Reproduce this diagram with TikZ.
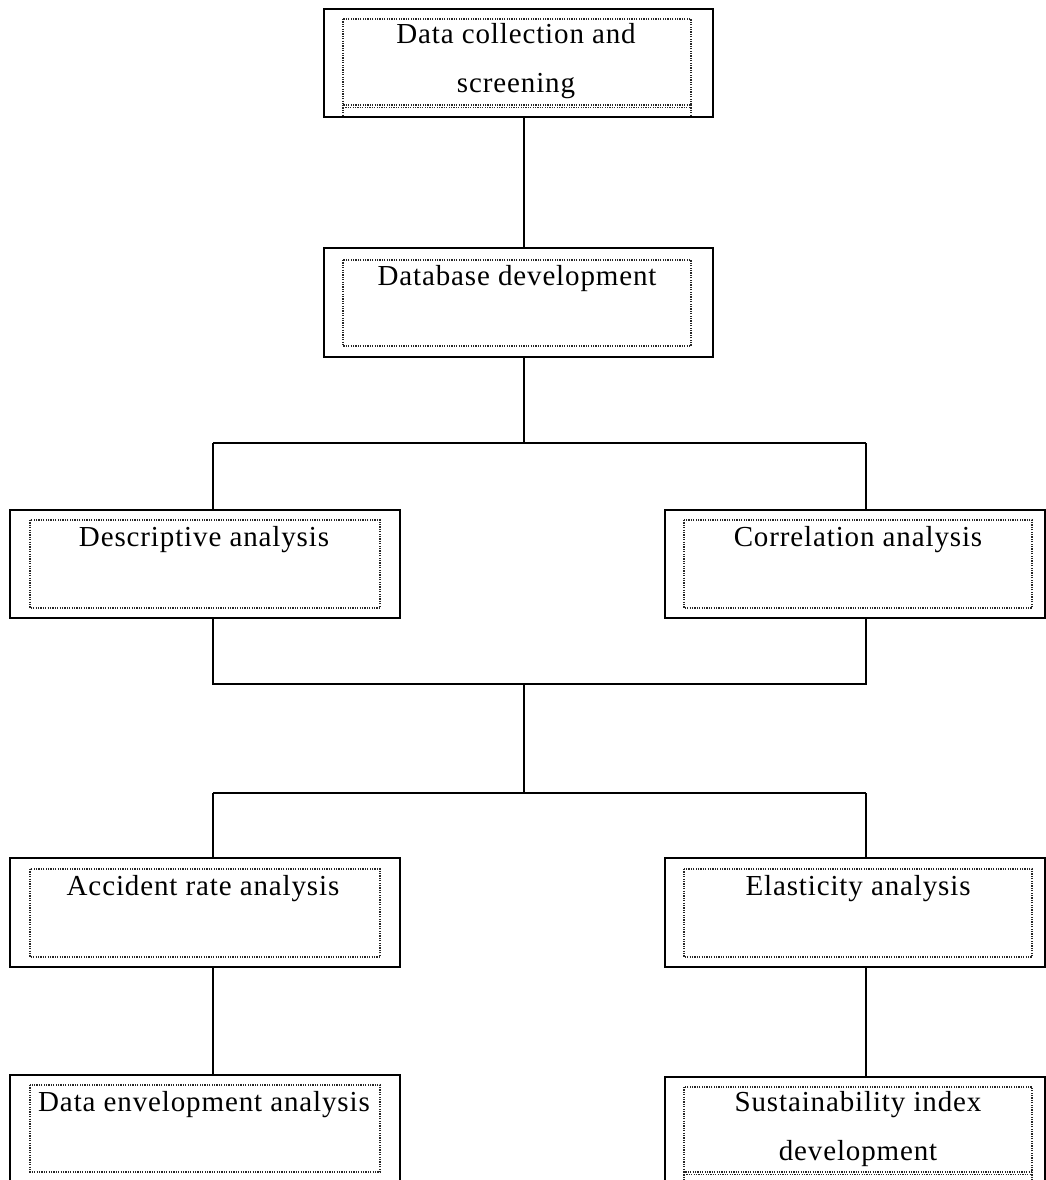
\documentclass[tikz,border=0pt]{standalone}
\usepackage{fontspec}
\setmainfont{Liberation Serif}[LetterSpace=3]
\begin{document}
\begin{tikzpicture}[x=1pt,y=-1pt,
  outerbox/.style={draw=black,line width=1.6pt,rectangle,inner sep=0pt},
  innerbox/.style={draw=black!85,line width=1.3pt,dash pattern=on 1.2pt off 1.2pt},
  conn/.style={draw=black,line width=1.6pt},
  lbl/.style={anchor=base,inner sep=0pt,font=\fontsize{29}{34}\selectfont,text=black}]
\useasboundingbox (0,0) rectangle (1046,1180);
% outer boxes
\node[outerbox,minimum width=389pt,minimum height=108pt] (b1) at (518.5,63) {};
\node[outerbox,minimum width=389pt,minimum height=109pt] (b2) at (518.5,302.5) {};
\node[outerbox,minimum width=390pt,minimum height=108pt] (b3) at (205,564) {};
\node[outerbox,minimum width=380pt,minimum height=108pt] (b4) at (855,564) {};
\node[outerbox,minimum width=390pt,minimum height=109pt] (b5) at (205,912.5) {};
\node[outerbox,minimum width=380pt,minimum height=109pt] (b6) at (855,912.5) {};
\node[outerbox,minimum width=390pt,minimum height=110pt] (b7) at (205,1130) {};
\node[outerbox,minimum width=380pt,minimum height=110pt] (b8) at (855,1132) {};
% inner dotted frames
\draw[innerbox] (343,19) rectangle (691,105);
\draw[innerbox] (343,107.5) -- (691,107.5);
\draw[innerbox] (343,105) -- (343,117) (691,105) -- (691,117);
\draw[innerbox] (343,260) rectangle (691,346);
\draw[innerbox] (30,520) rectangle (380,608);
\draw[innerbox] (684,520) rectangle (1032,608);
\draw[innerbox] (30,869) rectangle (380,957);
\draw[innerbox] (684,869) rectangle (1032,957);
\draw[innerbox] (30,1085) rectangle (380,1172);
\draw[innerbox] (684,1087) rectangle (1032,1172);
\draw[innerbox] (684,1174.5) -- (1032,1174.5);
\draw[innerbox] (684,1172) -- (684,1180) (1032,1172) -- (1032,1180);
% labels
\node[lbl] (t1a) at (516,44) {Data collection and};
\node[lbl] (t1b) at (516,93) {screening};
\node[lbl] (t2) at (517,285) {Database development};
\node[lbl] (t3) at (204,546) {Descriptive analysis};
\node[lbl] (t4) at (858,546) {Correlation analysis};
\node[lbl] (t5) at (203,895) {Accident rate analysis};
\node[lbl] (t6) at (858,895) {Elasticity analysis};
\node[lbl] (t7) at (204,1111) {Data envelopment analysis};
\node[lbl] (t8a) at (858,1111) {Sustainability index};
\node[lbl] (t8b) at (858,1160) {development};
% junction coordinates
\coordinate (j1) at (524,443);
\coordinate (j1l) at (213,443);
\coordinate (j1r) at (866,443);
\coordinate (j2l) at (213,684);
\coordinate (j2r) at (866,684);
\coordinate (j2) at (524,684);
\coordinate (j3) at (524,793);
\coordinate (j3l) at (213,793);
\coordinate (j3r) at (866,793);
% connectors
\draw[conn] (b1.south -| j1) -- (b2.north -| j1);
\draw[conn] (b2.south -| j1) -- (j1);
\draw[conn] (j1l) -- (j1r);
\draw[conn] (j1l) -- (b3.north -| j1l);
\draw[conn] (j1r) -- (b4.north -| j1r);
\draw[conn] (b3.south -| j2l) -- (j2l) -- (j2r) -- (b4.south -| j2r);
\draw[conn] (j2) -- (j3);
\draw[conn] (j3l) -- (j3r);
\draw[conn] (j3l) -- (b5.north -| j3l);
\draw[conn] (j3r) -- (b6.north -| j3r);
\draw[conn] (b5.south -| j3l) -- (b7.north -| j3l);
\draw[conn] (b6.south -| j3r) -- (b8.north -| j3r);
\end{tikzpicture}
\end{document}
